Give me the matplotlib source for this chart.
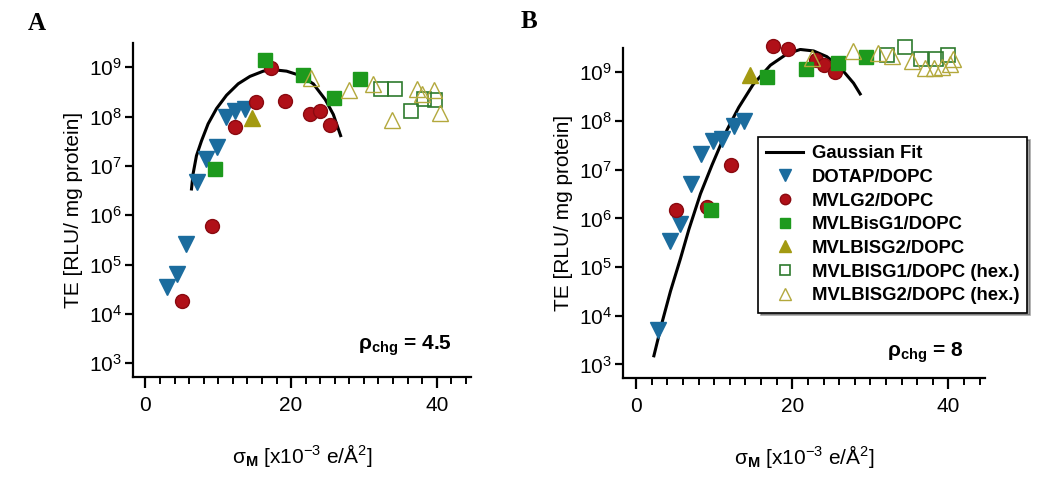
import matplotlib
matplotlib.use('Agg')
import matplotlib.pyplot as plt
from matplotlib.ticker import LogLocator, MultipleLocator, NullLocator, LogFormatterSciNotation

plt.rcParams['font.family'] = ['Liberation Sans', 'DejaVu Sans']
plt.rcParams['mathtext.fontset'] = 'custom'
plt.rcParams['mathtext.rm'] = 'Liberation Sans'
plt.rcParams['mathtext.it'] = 'Liberation Sans:italic'
plt.rcParams['mathtext.bf'] = 'Liberation Sans:bold'

# ---------------- data: panel A (rho_chg = 4.5) ----------------
A_fit_x = [6.33, 6.55, 7.01, 7.70, 8.61, 9.77, 11.14, 12.74, 14.35, 16.18, 17.55,
           19.39, 21.22, 23.05, 24.7, 25.8, 26.8]
A_fit_te = [3.4e6, 6.9e6, 1.6e7, 3.2e7, 7.1e7, 1.45e8, 2.7e8, 4.6e8, 6.5e8, 8.3e8, 8.9e8,
            8.3e8, 6.8e8, 4.6e8, 2.2e8, 1.1e8, 4.1e7]

A_dotap_x = [2.9, 4.3, 5.6, 7.1, 8.3, 9.8, 11.1, 12.3, 13.7]
A_dotap_te = [3.5e4, 6.5e4, 2.6e5, 4.7e6, 1.4e7, 2.4e7, 9.8e7, 1.3e8, 1.45e8]

A_mvlg2_x = [5.0, 9.1, 12.3, 15.2, 17.3, 19.2, 22.6, 24.0, 25.4]
A_mvlg2_te = [1.8e4, 6.0e5, 6.0e7, 2.0e8, 9.5e8, 2.1e8, 1.12e8, 1.3e8, 6.6e7]

A_bisg1_x = [9.5, 16.4, 21.7, 25.9, 29.4]
A_bisg1_te = [8.7e6, 1.4e9, 6.8e8, 2.4e8, 5.8e8]

A_bisg2_x = [14.6]
A_bisg2_te = [9.3e7]

A_bisg1hex_x = [32.3, 34.3, 36.4, 38.2, 39.8]
A_bisg1hex_te = [3.6e8, 3.6e8, 1.3e8, 2.3e8, 2.2e8]

A_bisg2hex_x = [22.8, 27.9, 31.2, 33.9, 37.3, 38.0, 39.6, 40.5]
A_bisg2hex_te = [5.9e8, 3.4e8, 4.6e8, 8.5e7, 3.6e8, 2.8e8, 3.4e8, 1.2e8]

# ---------------- data: panel B (rho_chg = 8) ----------------
B_fit_x = [2.26, 3.33, 4.39, 5.67, 6.74, 8.23, 9.72, 11.64, 13.13, 14.97, 17.19,
           19.32, 21.02, 22.73, 24.43, 26.14, 27.85, 28.70]
B_fit_te = [1.5e3, 7.5e3, 3.2e4, 1.5e5, 5.9e5, 3.2e6, 1.26e7, 6.6e7, 1.9e8, 5.6e8, 1.4e9,
            2.4e9, 2.95e9, 2.75e9, 2.1e9, 1.26e9, 6.0e8, 3.6e8]

B_dotap_x = [2.77, 4.31, 5.67, 7.08, 8.36, 9.85, 11.0, 12.5, 13.8]
B_dotap_te = [5.0e3, 3.5e5, 7.6e5, 5.0e6, 2.1e7, 3.8e7, 4.3e7, 7.8e7, 9.8e7]

B_mvlg2_x = [5.12, 9.08, 12.2, 17.5, 19.5, 23.0, 24.1, 25.5]
B_mvlg2_te = [1.45e6, 1.74e6, 1.23e7, 3.4e9, 2.95e9, 1.8e9, 1.4e9, 1.0e9]

B_bisg1_x = [9.6, 16.7, 21.7, 25.9, 29.5]
B_bisg1_te = [1.5e6, 8.1e8, 1.15e9, 1.55e9, 2.05e9]

B_bisg2_x = [14.6]
B_bisg2_te = [8.9e8]

B_bisg1hex_x = [32.1, 34.5, 36.5, 38.4, 40.0]
B_bisg1hex_te = [2.3e9, 3.3e9, 1.9e9, 1.85e9, 2.3e9]

B_bisg2hex_x = [22.5, 27.8, 31.0, 32.8, 35.3, 37.0, 38.1, 39.2, 40.2, 40.6]
B_bisg2hex_te = [2.0e9, 2.8e9, 2.5e9, 2.2e9, 1.7e9, 1.23e9, 1.23e9, 1.3e9, 1.45e9, 1.85e9]

series_labels = ['DOTAP/DOPC', 'MVLG2/DOPC', 'MVLBisG1/DOPC', 'MVLBISG2/DOPC',
                 'MVLBISG1/DOPC (hex.)', 'MVLBISG2/DOPC (hex.)']

styles = [
    dict(marker='v', ms=11, color='#1b6c9e', mec='#1b6c9e'),
    dict(marker='o', ms=10, color='#b01018', mec='#8a0a10', mew=1.0),
    dict(marker='s', ms=10.5, color='#1d9a1d', mec='#1d9a1d'),
    dict(marker='^', ms=11, color='#a39a12', mec='#a39a12'),
    dict(marker='s', ms=10.5, color='#2e7a2e', mfc='none', mew=1.2),
    dict(marker='^', ms=11, color='#b3a83c', mfc='none', mew=1.0),
]

fig = plt.figure(figsize=(10.5, 4.91), dpi=100)
axA = fig.add_axes([133/1050, 1-377/491, 338/1050, 334/491])
axB = fig.add_axes([623/1050, 1-378/491, 362/1050, 330/491])


def draw(ax, fx, fy, data, ylim, rho_text, rho_pos):
    ax.plot(fx, fy, color='black', lw=2.2, label='Gaussian Fit', zorder=2)
    for (x, y), lab, st in zip(data, series_labels, styles):
        ax.plot(x, y, ls='none', label=lab, clip_on=False, zorder=3, **st)
    ax.set_yscale('log')
    ax.set_xlim(-1.7, 44.7)
    ax.set_ylim(*ylim)
    ax.yaxis.set_major_locator(LogLocator(base=10, numticks=20))
    ax.yaxis.set_minor_locator(NullLocator())
    ax.yaxis.set_major_formatter(LogFormatterSciNotation())
    ax.xaxis.set_major_locator(MultipleLocator(20))
    ax.xaxis.set_minor_locator(MultipleLocator(2))
    for s in ['top', 'right']:
        ax.spines[s].set_visible(False)
    for s in ['left', 'bottom']:
        ax.spines[s].set_linewidth(1.6)
    ax.tick_params(axis='y', which='major', direction='out', length=6, width=1.6,
                   labelsize=15, pad=2)
    ax.tick_params(axis='x', which='major', direction='out', length=8, width=1.6,
                   labelsize=15, pad=6)
    ax.tick_params(axis='x', which='minor', direction='out', length=5, width=1.4)
    ax.set_ylabel('TE [RLU/ mg protein]', fontsize=15, labelpad=4)
    ax.set_xlabel(r'σ$_{\mathbf{M}}$ [x10$^{-3}$ e/Å$^{2}$]', fontsize=15, labelpad=19)
    fig.text(rho_pos[0], rho_pos[1], rho_text, fontsize=15, fontweight='bold',
             ha='left', va='baseline')


dataA = [(A_dotap_x, A_dotap_te), (A_mvlg2_x, A_mvlg2_te), (A_bisg1_x, A_bisg1_te),
         (A_bisg2_x, A_bisg2_te), (A_bisg1hex_x, A_bisg1hex_te), (A_bisg2hex_x, A_bisg2hex_te)]
dataB = [(B_dotap_x, B_dotap_te), (B_mvlg2_x, B_mvlg2_te), (B_bisg1_x, B_bisg1_te),
         (B_bisg2_x, B_bisg2_te), (B_bisg1hex_x, B_bisg1hex_te), (B_bisg2hex_x, B_bisg2hex_te)]

draw(axA, A_fit_x, A_fit_te, dataA, (10**2.72, 10**9.49),
     r'ρ$_{\mathbf{chg}}$ = 4.5', (358/1050, 1-350/491))
draw(axB, B_fit_x, B_fit_te, dataB, (10**2.72, 10**9.50),
     r'ρ$_{\mathbf{chg}}$ = 8', (887/1050, 1-357/491))

leg = axB.legend(loc='upper left', bbox_to_anchor=(758/1050, 1-137/491),
                 bbox_transform=fig.transFigure, frameon=True, fancybox=False,
                 shadow=True, edgecolor='black', framealpha=1,
                 prop={'weight': 'bold', 'size': 13.3}, borderaxespad=0,
                 handlelength=2.0, labelspacing=0.36, handletextpad=0.45,
                 borderpad=0.45, markerscale=0.75)
leg.get_frame().set_linewidth(1.2)

fig.text(37/1050, 1-24/491, 'A', family='Liberation Serif', fontweight='bold',
         fontsize=18, ha='center', va='center')
fig.text(529/1050, 1-22/491, 'B', family='Liberation Serif', fontweight='bold',
         fontsize=18, ha='center', va='center')

fig.savefig('out.png', dpi=100)
